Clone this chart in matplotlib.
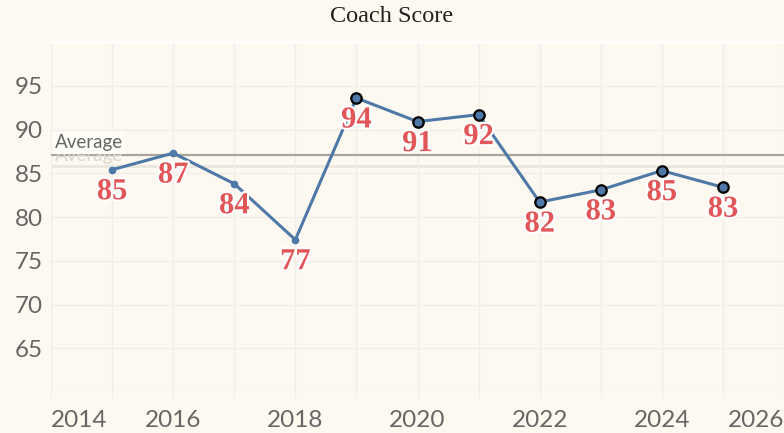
import numpy as np
import matplotlib.pyplot as plt
import matplotlib.patheffects as pe

# data
years = [2015, 2016, 2017, 2018, 2019, 2020, 2021, 2022, 2023, 2024, 2025]
scores = [85.4, 87.3, 83.8, 77.4, 93.6, 90.9, 91.7, 81.7, 83.1, 85.3, 83.4]
avg_line = 87.1
avg_faded = 85.8
ytick_vals = [65, 70, 75, 80, 85, 90, 95]
xtick_vals = [2014, 2016, 2018, 2020, 2022, 2024, 2026]

bg = '#fdf9f1'
blue = '#4e79a7'
red = '#e15759'
grid = '#f1eee9'

fig = plt.figure(figsize=(7.84, 4.33), dpi=100, facecolor=bg)
ax = fig.add_axes([51/784, 41/433, 733/784, 350/433], facecolor=bg)

ax.set_xlim(2014, 2026)
ax.set_ylim(60, 100)

# grid
ax.set_xticks(range(2014, 2027), minor=True)
ax.set_xticks(xtick_vals)
ax.set_yticks(ytick_vals)
ax.set_yticks([60, 100], minor=True)
ax.grid(True, which='both', color=grid, lw=1, zorder=0)
for s in ['left', 'right', 'bottom']:
    ax.spines[s].set_visible(False)
ax.spines['top'].set_color('white')
ax.spines['top'].set_linewidth(2)

ax.tick_params(axis='x', which='both', length=5, color=grid, pad=8,
               labelsize=17.5, labelcolor='#666666')
ax.tick_params(axis='y', which='both', length=0, pad=6,
               labelsize=17.5, labelcolor='#666666')
for lab in ax.get_xticklabels() + ax.get_yticklabels():
    lab.set_family('Lato')
xl = ax.get_xticklabels()
xl[0].set_ha('left')
xl[-1].set_ha('right')

# average lines
ax.axhline(avg_faded, color='#ebe7df', lw=2, zorder=1)
ax.axhline(avg_line, color='#a9a59d', lw=1.6, zorder=2)
ax.text(2014.07, avg_faded + 0.2, 'Average', fontsize=13.5, color='#dad6ce',
        family='Lato', va='bottom', ha='left', zorder=2)
ax.annotate('Average', (2014.07, avg_line), xytext=(0, 4),
            textcoords='offset pixels', fontsize=13.5, color='#666666',
            family='Lato', va='bottom', ha='left', zorder=3,
            bbox=dict(boxstyle='square,pad=0.15', fc='#fefcf7', ec='none'))

# line
ax.plot(years, scores, color=blue, lw=2.2, zorder=4)
ax.plot(years[:4], scores[:4], 'o', ms=4.5, color=blue, zorder=5)
ax.plot(years[4:], scores[4:], 'o', ms=7.5, mfc=blue, mec='black',
        mew=1.6, zorder=5)

for x, y in zip(years, scores):
    ax.annotate(f'{round(y)}', (x, y), xytext=(0, -22),
                textcoords='offset pixels', ha='center', va='center',
                fontsize=22, fontweight='bold', color=red,
                family='Liberation Serif', zorder=6,
                path_effects=[pe.withStroke(linewidth=3, foreground='white')])

fig.text(0.5, 1 - 17/433, 'Coach Score', ha='center', va='center',
         fontsize=17.5, color='#222222', family='Liberation Serif')

fig.savefig('out.png', dpi=100, facecolor=bg)
